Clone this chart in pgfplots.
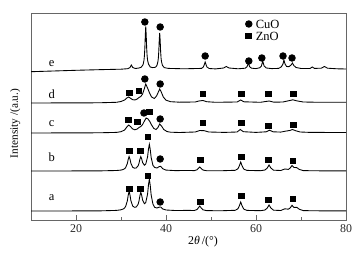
\documentclass[border=0pt]{standalone}
\usepackage{fontspec}
\setmainfont{Liberation Serif}
\usepackage{pgfplots}
\pgfplotsset{compat=1.18}
\begin{document}
\begin{tikzpicture}
\begin{axis}[
  scale only axis, width=252pt, height=165.6pt,
  xmin=10, xmax=80, ymin=0, ymax=207,
  xtick={20,40,60,80}, minor xtick={30,50,70}, ytick=\empty,
  tick align=inside, xtick pos=bottom,
  major tick length=4pt, minor tick length=2pt,
  axis line style={draw=black!60, line width=0.6pt},
  every tick/.style={black!60, line width=0.6pt},
  tick label style={font=\fontsize{9.5}{11}\selectfont, text=black!85},
  /pgf/number format/assume math mode=true,
  xlabel={2{\itshape θ}\,/(°)},
  xlabel style={at={(rel axis cs:0.546,-0.106)}, anchor=center, font=\fontsize{9.5}{11}\selectfont},
  ylabel={Intensity /(a.u.)},
  ylabel style={at={(rel axis cs:-0.05,0.466)}, anchor=center, rotate=0, font=\fontsize{9}{11}\selectfont},
  every axis plot/.append style={line width=0.7pt, black},
]
% trace a
\addplot[no marks] coordinates {
(10,9) (25,9.1) (29,9.6) (30,10.2) (30.6,11.2) (31.0,13.2) (31.4,19.0) (31.6,24.7) (31.8,28.6)
(32.0,24.9) (32.2,19.3) (32.6,14.0) (33.0,12.7) (33.4,13.0) (33.8,15.7) (34.0,19.0) (34.2,24.2)
(34.4,27.7) (34.6,24.6) (34.8,19.9) (35.2,16.3) (35.5,17.5) (35.9,25.8) (36.1,34.9) (36.3,40.9)
(36.5,34.6) (36.7,25.1) (37.1,15.8) (37.5,12.6) (38.0,12.0) (38.5,12.9) (38.8,13.0) (39.3,11.0)
(40,10.0) (42,9.5) (45,9.6) (46.3,9.5) (46.9,10.5) (47.2,12.2) (47.5,14) (47.8,12.2) (48.2,10.2)
(49,9.4) (52,9.2) (55.4,9.7) (56.0,11.3) (56.3,14.2) (56.6,18) (56.9,14.2) (57.3,10.8) (58,9.6)
(61,9.3) (62.0,10) (62.5,12) (62.9,15) (63.3,12) (63.9,9.8) (65.5,9.5) (66.4,11.2) (67.2,10.8)
(67.6,12.1) (68.0,14.7) (68.4,12.6) (69.1,12.6) (69.6,10.8) (70.5,9.4) (73,9.2) (80,9.1)
};
% trace b
\addplot[no marks] coordinates {
(10,49) (25,49.1) (29,49.5) (30,49.9) (30.6,50.7) (31.0,52.1) (31.4,56.4) (31.6,60.6) (31.8,63.5)
(32.0,60.8) (32.2,56.7) (32.6,52.7) (33.0,51.8) (33.4,52.1) (33.8,54.2) (34.0,56.7) (34.2,60.7)
(34.4,63.4) (34.6,61.1) (34.8,57.5) (35.2,54.8) (35.5,55.9) (35.9,63.0) (36.1,70.7) (36.3,75.7)
(36.5,70.4) (36.7,62.5) (37.1,54.6) (37.5,52.5) (38.0,52.0) (38.5,53.4) (38.8,53.7) (39.3,51.2)
(40,49.9) (42,49.4) (45,49.5) (46.3,49.4) (46.9,50.2) (47.2,51.6) (47.5,53) (47.8,51.6) (48.2,50)
(49,49.3) (52,49.2) (55.4,49.7) (56.0,51.3) (56.3,54.2) (56.6,58) (56.9,54.2) (57.3,50.8) (58,49.6)
(61,49.3) (62.0,50) (62.5,52) (62.9,55) (63.3,52) (63.9,49.8) (65.5,49.5) (66.4,51) (67.2,50.6)
(67.6,52) (68.0,54.5) (68.4,52.6) (69.1,52.3) (69.6,50.6) (70.5,49.4) (73,49.2) (80,49.1)
};
% trace c
\addplot[no marks] coordinates {
(10,87) (25,87.2) (29,87.6) (30,88.3) (30.8,90) (31.3,93) (31.7,95) (32.1,93.5) (32.6,91)
(33.1,90.2) (33.6,91) (34.0,92.5) (34.4,93.5) (34.8,95.5) (35.2,99) (35.6,102) (36.0,101)
(36.4,98.5) (36.8,95) (37.3,91.5) (37.8,90.5) (38.2,92.5) (38.6,96) (39.0,94) (39.5,90.5)
(40.2,88.5) (41,87.8) (43,87.5) (46.5,88) (47.5,89.5) (48.5,89.3) (49.5,88) (53,87.6) (55.8,88)
(56.5,90.5) (57.2,88.3) (60,87.6) (62.3,88.2) (63,89.8) (63.8,88.2) (65.5,87.9) (66.5,88.8)
(67.5,89.5) (68.1,90.5) (68.8,89.3) (69.8,88) (72,87.6) (80,87.5)
};
% trace d
\addplot[no marks] coordinates {
(10,117) (25,117.2) (29,117.7) (30,118.5) (30.8,120) (31.3,122) (31.7,123) (32.1,121.8) (32.6,120.3)
(33.1,120) (33.6,121) (34.0,122.5) (34.4,123.5) (34.8,126) (35.1,130) (35.5,136) (35.9,132)
(36.3,127.5) (36.8,123) (37.4,121.5) (37.9,124) (38.3,128) (38.6,131) (38.9,128.5) (39.4,123)
(40,119.8) (41,118.3) (43,117.8) (46.5,118) (47.3,119) (48.2,119.5) (49,118.3) (51,117.7)
(55.8,118) (56.6,120) (57.3,118.2) (61,117.7) (62.9,119) (64,117.8) (66,118) (67.5,119.5)
(68.2,120.2) (69,119.2) (70.5,118) (74,117.7) (80,117.7)
};
% trace e
\addplot[no marks] coordinates {
(10,148.3) (15,149) (20,149.7) (25,150.3) (30,150.8) (31.5,151.3) (32.0,152.5) (32.3,155) (32.6,152.5)
(33.2,151.5) (34.0,152) (34.5,152.8) (34.9,155.3) (35.1,159.5) (35.2,164) (35.3,172) (35.4,184.6)
(35.5,193.6) (35.6,184.8) (35.7,172.3) (35.8,164.5) (35.9,160) (36.1,156) (36.5,153) (37.0,152.4)
(37.5,152.6) (37.8,153.3) (38.0,154.8) (38.2,158.4) (38.3,162) (38.4,169) (38.5,180) (38.6,187)
(38.7,180) (38.8,169) (38.9,162) (39.0,158.3) (39.2,154.7) (39.6,152.4) (40.5,151.6) (44,151.2)
(47.9,151.6) (48.3,153) (48.5,155.3) (48.7,158) (48.9,155.3) (49.1,153) (49.6,151.5) (51,151.1)
(52.8,152) (53.4,153.5) (54,152) (56,151.2) (57.6,151.8) (58.0,153.2) (58.3,157) (58.6,153.2)
(59.0,151.8) (60,151.4) (60.8,152.2) (61.2,154) (61.5,159) (61.8,154) (62.3,152) (63.5,151.4)
(65,151.6) (65.6,153) (66.0,156) (66.2,160) (66.45,156) (66.8,153.5) (67.3,153.3) (67.8,155)
(68.1,157) (68.4,154.5) (68.9,152.5) (70,151.5) (72,151.5) (72.5,153) (73,151.6) (74.5,151.8)
(75.2,153.5) (75.9,151.8) (78,151.2) (80,151)
};
% CuO markers
\addplot[only marks, mark=*, mark size=2.6pt] coordinates {
(38.7,18) (38.7,61) (35.1,107) (38.7,101) (35.3,141) (38.7,136)
(35.3,198) (38.7,193) (48.7,164) (58.4,159) (61.3,162) (66.0,164) (68.0,162) (58.4,196)
};
% ZnO markers
\addplot[only marks, mark=square*, mark size=2.3pt] coordinates {
(31.8,31) (34.4,31) (36.0,44) (47.6,18) (56.7,24) (62.7,20) (68.2,21)
(31.8,69) (34.4,69) (36.0,83) (47.6,60) (56.7,63) (62.7,60) (68.2,59)
(31.6,100) (33.6,98) (36.4,108) (48.2,97) (56.7,97) (62.7,94) (68.4,95)
(31.8,127) (34.0,129) (48.2,126) (56.7,126) (62.7,126) (68.4,126)
(58.4,184)
};
\node[anchor=west, font=\fontsize{10}{12}\selectfont, inner sep=0pt] at (axis cs:59.9,196) {CuO};
\node[anchor=west, font=\fontsize{10}{12}\selectfont, inner sep=0pt] at (axis cs:59.9,184) {ZnO};
\node[font=\fontsize{10}{12}\selectfont] at (axis cs:14.6,22) {a};
\node[font=\fontsize{10}{12}\selectfont] at (axis cs:14.6,63) {b};
\node[font=\fontsize{10}{12}\selectfont] at (axis cs:14.6,96) {c};
\node[font=\fontsize{10}{12}\selectfont] at (axis cs:14.6,126) {d};
\node[font=\fontsize{10}{12}\selectfont] at (axis cs:14.6,156) {e};
\coordinate (bl) at (rel axis cs:0,0);
\coordinate (tr) at (rel axis cs:1,1);
\end{axis}
\pgfresetboundingbox
\path (bl) ++(-24.8pt,-30.4pt) coordinate (BB1);
\path (tr) ++(14.4pt,10.4pt) coordinate (BB2);
\path[use as bounding box] (BB1) rectangle (BB2);
\end{tikzpicture}
\end{document}
